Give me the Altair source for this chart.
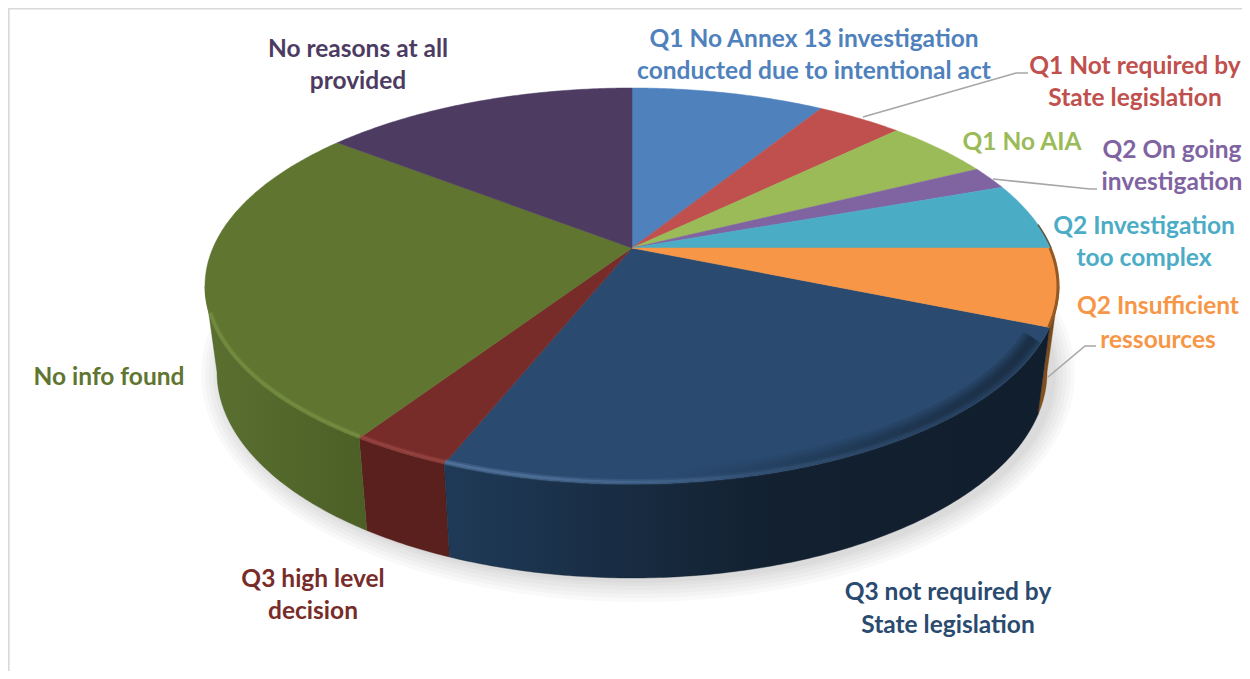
import math
import altair as alt
import pandas as pd

# ---- chart values ----
categories = ["Q1 No Annex 13 investigation conducted due to intentional act",
              "Q1 Not required by State legislation", "Q1 No AIA", "Q2 On going investigation",
              "Q2 Investigation too complex", "Q2 Insufficient ressources",
              "Q3 not required by State legislation", "Q3 high level decision",
              "No info found", "No reasons at all provided"]
shares = [8.8, 3.9, 4.9, 1.9, 5.5, 6.3, 24.7, 3.2, 26.4, 14.4]
colors = ["#4f81bd", "#c0504d", "#9bbb59", "#8064a2", "#4bacc6",
          "#f79646", "#2a4a70", "#772c2a", "#5f7530", "#4d3b62"]
wall_stops = {5: ("#8a5420", "#6e4217"), 7: ("#5a201d", "#5a201d"), 8: ("#5a7030", "#4c5f26")}
rim_colors = {7: "#a4504c", 8: "#7f9a48"}

label_lines = [("Q1 No Annex 13 investigation", 0, 814, 38), ("conducted due to intentional act", 0, 814, 70),
               ("Q1 Not required by", 1, 1135, 65), ("State legislation", 1, 1135, 97),
               ("Q1 No AIA", 2, 1022, 141),
               ("Q2 On going", 3, 1172, 149), ("investigation", 3, 1172, 181),
               ("Q2 Investigation", 4, 1144, 225), ("too complex", 4, 1144, 257),
               ("Q2 Insufficient", 5, 1158, 305), ("ressources", 5, 1158, 339),
               ("Q3 not required by", 6, 948, 591), ("State legislation", 6, 948, 624),
               ("Q3 high level", 7, 313, 578), ("decision", 7, 313, 610),
               ("No info found", 8, 109, 376),
               ("No reasons at all", 9, 358, 48), ("provided", 9, 358, 80)]
leaders = [[(863, 117), (1016, 73), (1028, 73)],
           [(993, 179), (1090, 189), (1097, 189)],
           [(1048, 377), (1085, 346), (1096, 346)]]

# ---- layout of the tilted disc ----
W, H = 1234, 663
CX, TOP_CY, RX, RY = 632, 286, 427, 198
BOT_CY, BOT_RX, BOT_RY = 372, 415, 206
C = -0.192
FONT = "Lato"
FS = 24.5
TEXT_DY = 2


def unit(theta):
    s, c = math.sin(theta), -math.cos(theta)
    d = 1 + C * c
    return s * math.sqrt(1 - C * C) / d, (c + C) / d


def arc(t0, t1, cx, cy, rx, ry, dy=0):
    n = max(2, int(abs(t1 - t0) / 0.01))
    out = []
    for i in range(n + 1):
        u, v = unit(t0 + (t1 - t0) * i / n)
        out.append((cx + rx * u, cy + ry * v + dy))
    return out


xs = alt.Scale(domain=[8, 8 + W], range=[0, W], nice=False, zero=False)
ys = alt.Scale(domain=[8, 8 + H], range=[0, H], nice=False, zero=False)


def frame(points):
    return pd.DataFrame([{"x": p[0], "y": p[1], "i": i} for i, p in enumerate(points)])


def path(points, **mark):
    return alt.Chart(frame(points)).mark_line(**mark).encode(
        x=alt.X("x:Q", scale=xs, axis=None),
        y=alt.Y("y:Q", scale=ys, axis=None),
        order="i:Q")


layers = []

# frame lines of the original picture
layers.append(path([(8.8, 671), (8.8, 8.8), (1242, 8.8)], stroke="#d9d9d9", strokeWidth=1.6))

# soft shadow
for grow in (22, 18, 14, 10, 6, 3):
    shadow = [(CX + 6 + (BOT_RX + grow) * math.cos(a / 60 * math.pi),
               BOT_CY + 2 + (BOT_RY + grow) * math.sin(a / 60 * math.pi)) for a in range(121)]
    layers.append(path(shadow, fill="#000000", fillOpacity=0.022, strokeOpacity=0))

# boundaries of slices
bounds = [0.0]
for v in shares:
    bounds.append(bounds[-1] + v)
total = bounds[-1]
angle = [b / total * 2 * math.pi for b in bounds]
wall_lo = math.acos(C)
wall_hi = 2 * math.pi - wall_lo

# side walls
for k, (c0, c1) in wall_stops.items():
    t0, t1 = max(angle[k], wall_lo), min(angle[k + 1], wall_hi)
    pts = arc(t0, t1, CX, TOP_CY, RX, RY) + arc(t1, t0, CX, BOT_CY, BOT_RX, BOT_RY)
    pts.append(pts[0])
    stops = [alt.GradientStop(offset=0, color=c0), alt.GradientStop(offset=1, color=c1)]
    grad = alt.LinearGradient(gradient="linear", stops=stops, x1=0, x2=1, y1=0, y2=0)
    layers.append(path(pts, fill=grad, stroke=c1, strokeWidth=0.4))

t0, t1 = angle[6], angle[7]
pts = arc(t0, t1, CX, TOP_CY, RX, RY) + arc(t1, t0, CX, BOT_CY, BOT_RX, BOT_RY)
pts.append(pts[0])
navy_wall = alt.LinearGradient(gradient="linear", x1=1, x2=0, y1=0, y2=0, stops=[
    alt.GradientStop(offset=0, color="#101e2d"), alt.GradientStop(offset=0.45, color="#12202f"),
    alt.GradientStop(offset=1, color="#1f3a58")])
layers.append(path(pts, fill=navy_wall, stroke="#12202f", strokeWidth=0.4))


def face(k):
    col = colors[k]
    pts = [(CX, TOP_CY + RY * C)] + arc(angle[k], angle[k + 1], CX, TOP_CY, RX, RY)
    pts.append(pts[0])
    return path(pts, fill=col, stroke=col, strokeWidth=0.5)


# navy top face with its soft shaded band, the other faces over it
layers.append(face(6))
shade = alt.LinearGradient(gradient="linear", x1=1, x2=0, y1=0, y2=0, stops=[
    alt.GradientStop(offset=0, color="rgba(18,32,47,0.9)"), alt.GradientStop(offset=1, color="rgba(18,32,47,0)")])
shade_arc = arc(angle[6] + 0.08, angle[6] + 1.1, CX, TOP_CY, RX - 8, RY, -6)
for width in (22, 16, 11, 6):
    layers.append(path(shade_arc, stroke=shade, strokeWidth=width, strokeOpacity=0.25))
for k in range(len(colors)):
    if k != 6:
        layers.append(face(k))

# bevel highlight along the front edge: soft band lying on the seam
for k, col in rim_colors.items():
    t0, t1 = max(angle[k], wall_lo), min(angle[k + 1], wall_hi - 0.14)
    layers.append(path(arc(t0, t1, CX, TOP_CY, RX - 1, RY, -2), stroke=col, strokeWidth=5, strokeOpacity=0.3))
    layers.append(path(arc(t0, t1, CX, TOP_CY, RX - 1, RY, -2), stroke=col, strokeWidth=2.5, strokeOpacity=0.45))

navy_soft = alt.LinearGradient(gradient="linear", x1=1, x2=0, y1=0, y2=0, stops=[
    alt.GradientStop(offset=0, color="rgba(93,128,168,0)"), alt.GradientStop(offset=0.5, color="rgba(93,128,168,0.25)"),
    alt.GradientStop(offset=0.85, color="rgba(93,128,168,0.9)"), alt.GradientStop(offset=1, color="rgba(93,128,168,1)")])
navy_arc = arc(angle[6], angle[7], CX, TOP_CY, RX - 1, RY, -2)
layers.append(path(navy_arc, stroke=navy_soft, strokeWidth=6, strokeOpacity=0.35))
layers.append(path(navy_arc, stroke=navy_soft, strokeWidth=2.5, strokeOpacity=0.55))

# dark outer edge on the right of the disc
layers.append(path(arc(angle[4] + 0.22, angle[5], CX, TOP_CY, RX, RY), stroke="#5a3a18", strokeWidth=1.5, strokeOpacity=0.8))
layers.append(path(arc(angle[5], angle[6], CX, TOP_CY, RX - 1, RY), stroke="#7a4a1c", strokeWidth=3, strokeOpacity=0.8))

# leader lines
for ld in leaders:
    layers.append(path(ld, stroke="#a6a6a6", strokeWidth=1.6))

# labels
lab = pd.DataFrame([{"text": t, "color": colors[k], "x": x, "y": y + TEXT_DY, "category": categories[k]}
                    for t, k, x, y in label_lines])
layers.append(alt.Chart(lab).mark_text(font=FONT, fontWeight="bold", fontSize=FS, align="center", baseline="middle").encode(
    x=alt.X("x:Q", scale=xs, axis=None),
    y=alt.Y("y:Q", scale=ys, axis=None),
    text="text:N",
    color=alt.Color("color:N", scale=None)))

chart = alt.layer(*layers).properties(width=W, height=H, padding=0, background="white",
                                      autosize=alt.AutoSizeParams(type="none")).configure_view(stroke=None)
chart.save("out.html", embed_options={"renderer": "svg", "actions": False})
